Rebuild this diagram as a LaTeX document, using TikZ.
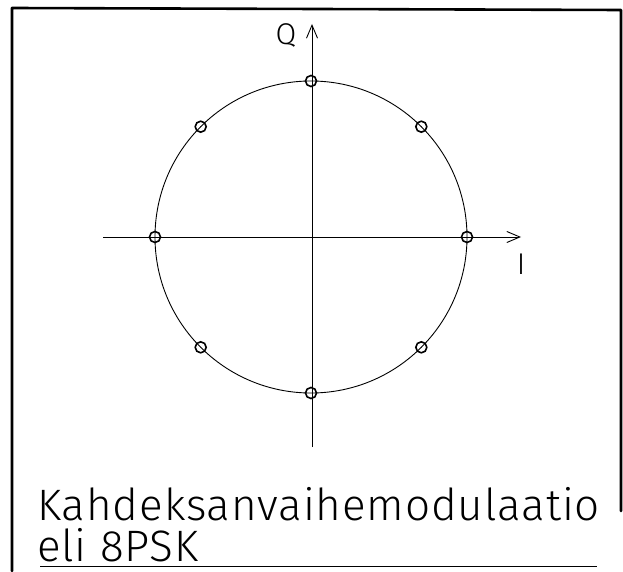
\documentclass[tikz,border=0pt]{standalone}
\usepackage{fontspec}
\setmainfont{Fira Sans Light}
\usetikzlibrary{arrows.meta, calc}
\tikzset{
  frame/.style={line width=2.6pt, line cap=round, line join=round},
  axis/.style={line width=0.9pt, -{Straight Barb[length=13pt, width=11pt]}},
  ring/.style={line width=0.9pt},
  dot/.style={circle, draw, line width=1.6pt, minimum size=11pt, inner sep=0pt},
  lbl/.style={font=\fontsize{30}{30}\selectfont},
  title/.style={font=\fontsize{44}{50}\selectfont\addfontfeature{LetterSpace=2.0},
                anchor=base west, inner sep=0pt, text depth=0pt}
}

\begin{document}
\begin{tikzpicture}[x=1pt, y=1pt]
  \useasboundingbox (0,0) rectangle (623,571);

  % frame
  \coordinate (fbl) at (12,0);
  \coordinate (ftl) at (12,563);
  \coordinate (ftr) at (621,561);
  \coordinate (fbr) at (621,60);
  \draw[frame] (fbl) -- (ftl) -- (ftr) -- (fbr);

  % axes and circle
  \coordinate (o) at (311,334);
  \coordinate (iw) at (103,334);
  \coordinate (ie) at (521,334);
  \coordinate (qs) at (312,124);
  \coordinate (qn) at (312,547);
  \draw[axis] (iw) -- (ie);
  \draw[axis] (qs) -- (qn);
  \draw[ring] (o) circle (156);
  \foreach \k in {0,...,7}
    \node[dot] (p\k) at ($(o)+(\k*45:156)$) {};

  \node[lbl] (q) at (286,536) {Q};
  \node[lbl] (i) at (521,307) {I};

  % caption
  \node[title] (t1) at (37,51) {Kahdeksanvaihemodulaatio};
  \node[title] (t2) at (37,10) {eli 8PSK};
  \coordinate (ul) at (40,5);
  \coordinate (ur) at (597,5);
  \draw[thin] (ul) -- (ur);
\end{tikzpicture}
\end{document}
